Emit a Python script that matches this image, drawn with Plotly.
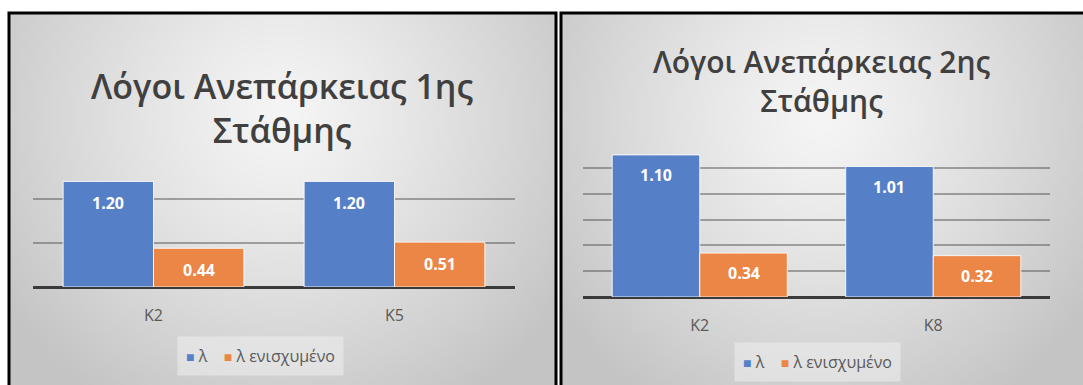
import base64
import struct
import zlib

import plotly.graph_objects as go

# ---- data -------------------------------------------------------------
series_names = ["λ", "λ ενισχυμένο"]

categories_1 = ["K2", "K5"]
lambda_1 = [1.20, 1.20]
lambda_reinforced_1 = [0.44, 0.51]

categories_2 = ["K2", "K8"]
lambda_2 = [1.10, 1.01]
lambda_reinforced_2 = [0.34, 0.32]

title_1 = "Λόγοι Ανεπάρκειας 1ης<br>Στάθμης"
title_2 = "Λόγοι Ανεπάρκειας 2ης<br>Στάθμης"

# ---- page geometry (pixels) -------------------------------------------
W, H = 1083, 385
BLUE = "#5580c8"
ORANGE = "#eb8646"
TEXT = "#595959"
FONT = "Open Sans"


def px(x):
    return x / W


def py(y):
    return 1 - y / H


# ---- soft radial background for the chart panels ------------------------
def _chunk(tag, data):
    return (struct.pack(">I", len(data)) + tag + data
            + struct.pack(">I", zlib.crc32(tag + data) & 0xFFFFFFFF))


def radial_png(w, h, cx, cy, sx, sy, inner, outer):
    raw = bytearray()
    for j in range(h):
        raw.append(0)
        v = (j + 0.5) / h
        for i in range(w):
            u = (i + 0.5) / w
            r = min(1.0, (((u - cx) / sx) ** 2 + ((v - cy) / sy) ** 2) ** 0.5)
            raw.append(int(round(inner + (outer - inner) * r ** 1.2)))
    png = b"\x89PNG\r\n\x1a\n"
    png += _chunk(b"IHDR", struct.pack(">IIBBBBB", w, h, 8, 0, 0, 0, 0))
    png += _chunk(b"IDAT", zlib.compress(bytes(raw), 9))
    png += _chunk(b"IEND", b"")
    return "data:image/png;base64," + base64.b64encode(png).decode()


bg = radial_png(120, 90, 0.5, 0.28, 0.62, 0.9, 245, 196)

fig = go.Figure()


def add_chart(idx, cats, s1, s2, label_shift):
    xa = "x" if idx == 1 else f"x{idx}"
    ya = "y" if idx == 1 else f"y{idx}"
    for name, vals, color in ((series_names[0], s1, BLUE),
                              (series_names[1], s2, ORANGE)):
        fig.add_trace(go.Bar(
            x=cats, y=vals, name=name, xaxis=xa, yaxis=ya,
            marker=dict(color=color, line=dict(color="rgba(255,255,255,0.85)", width=1)),
            showlegend=False, hoverinfo="skip",
        ))
    # value labels just inside the top of each bar
    for k, vals in enumerate((s1, s2)):
        off = -0.1875 if k == 0 else 0.1875
        for i, v in enumerate(vals):
            fig.add_annotation(
                x=i + off, y=v, xref=xa, yref=ya, text=f"{v:.2f}",
                showarrow=False, yanchor="middle", yshift=label_shift,
                font=dict(family=FONT, size=16, color="white", weight=700),
            )


def add_legend(cx, cy):
    sq = "<span style='font-size:14px;color:{c}'>■</span>"
    text = (sq.format(c=BLUE) + f" {series_names[0]}"
            + "    " + sq.format(c=ORANGE) + f" {series_names[1]}")
    fig.add_annotation(
        text=text, xref="paper", yref="paper", x=px(cx), y=py(cy),
        xanchor="center", yanchor="middle", showarrow=False,
        bgcolor="rgba(238,238,238,0.55)", borderpad=8,
        font=dict(family=FONT, size=16, color=TEXT),
    )


add_chart(1, categories_1, lambda_1, lambda_reinforced_1, -22)
add_chart(2, categories_2, lambda_2, lambda_reinforced_2, -20)
add_legend(260, 356)
add_legend(817, 362)

axis_common = dict(
    showgrid=False, showline=False, ticks="", zeroline=False,
    tickfont=dict(family=FONT, size=16, color=TEXT), ticklabelstandoff=17,
    fixedrange=True,
)
yaxis_common = dict(
    showgrid=True, gridcolor="rgba(70,70,70,0.45)", gridwidth=1.5,
    zeroline=True, zerolinecolor="#3a3a3a", zerolinewidth=3,
    showticklabels=False, ticks="", showline=False, fixedrange=True,
)

fig.update_layout(
    width=W, height=H,
    margin=dict(l=0, r=0, t=0, b=0),
    paper_bgcolor="white", plot_bgcolor="rgba(0,0,0,0)",
    barmode="group", bargap=0.25, bargroupgap=0,
    xaxis=dict(domain=[px(33), px(515)], anchor="y", **axis_common),
    yaxis=dict(domain=[py(287), py(155)], anchor="x", range=[0, 1.5], dtick=0.5,
               **yaxis_common),
    xaxis2=dict(domain=[px(583), px(1050)], anchor="y2", **axis_common),
    yaxis2=dict(domain=[py(297), py(142)], anchor="x2", range=[0, 1.2], dtick=0.2,
                **yaxis_common),
    showlegend=False,
)

# panel backgrounds
fig.add_layout_image(dict(source=bg, xref="paper", yref="paper",
                          x=px(9), y=py(13), sizex=px(556) - px(9), sizey=py(13) - py(385),
                          xanchor="left", yanchor="top", sizing="stretch", layer="below"))
fig.add_layout_image(dict(source=bg, xref="paper", yref="paper",
                          x=px(561), y=py(13), sizex=px(1083) - px(561), sizey=py(13) - py(385),
                          xanchor="left", yanchor="top", sizing="stretch", layer="below"))

# panel frames
fig.add_shape(type="rect", xref="paper", yref="paper",
              x0=px(9), x1=px(556), y0=-0.05, y1=py(13),
              line=dict(color="black", width=3), fillcolor="rgba(0,0,0,0)", layer="above")
fig.add_shape(type="rect", xref="paper", yref="paper",
              x0=px(561), x1=1.05, y0=-0.05, y1=py(13),
              line=dict(color="black", width=3), fillcolor="rgba(0,0,0,0)", layer="above")

# chart titles
fig.add_annotation(text=title_1, xref="paper", yref="paper", x=px(282), y=py(108),
                   xanchor="center", yanchor="middle", showarrow=False,
                   font=dict(family=FONT, size=34, color="#404040", weight=600))
fig.add_annotation(text=title_2, xref="paper", yref="paper", x=px(821), y=py(81),
                   xanchor="center", yanchor="middle", showarrow=False,
                   font=dict(family=FONT, size=30, color="#404040", weight=600))

fig.write_html("out.html")
